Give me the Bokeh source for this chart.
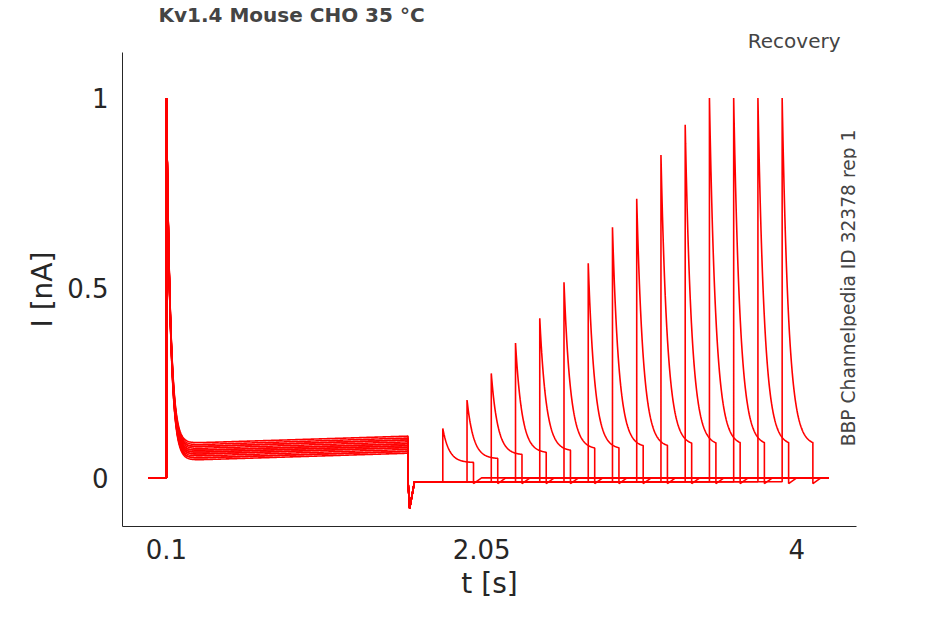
import numpy as np
from bokeh.plotting import figure
from bokeh.models import Label, FixedTicker, Range1d, Title
from bokeh.embed import file_html
from bokeh.resources import INLINE

plateaus = [0.045, 0.05, 0.055, 0.06, 0.065, 0.07, 0.075, 0.08, 0.085, 0.05, 0.06, 0.07, 0.08, 0.09, 0.065]
peak_times = [1.81, 1.96, 2.11, 2.26, 2.41, 2.56, 2.71, 2.86, 3.01, 3.16, 3.31, 3.46, 3.61, 3.76, 3.91]
peak_amps = [0.13, 0.205, 0.275, 0.355, 0.42, 0.515, 0.565, 0.66, 0.735, 0.85, 0.93, 1.0, 1.0, 1.0, 1.0]
tail_levels = [0.04, 0.05, 0.06, 0.065, 0.07, 0.075, 0.075, 0.08, 0.08, 0.085, 0.085, 0.085, 0.085, 0.085, 0.085]
t_start, t_on, t_off, t_end = -0.01, 0.1, 1.595, 4.2
pulse_len = 0.19

p = figure(width=930, height=610, output_backend="svg", toolbar_location=None,
           x_range=Range1d(-0.172, 4.37), y_range=Range1d(-0.128, 1.12),
           min_border_left=122, min_border_right=74, min_border_top=20, min_border_bottom=84)
p.outline_line_color = None
p.grid.visible = False

p.title.text = "Kv1.4  Mouse  CHO  35 °C"
p.title.text_font_size = "15pt"
p.title.text_font_style = "bold"
p.title.text_font = "DejaVu Sans"
p.title.offset = 36
p.title.standoff = 0
p.add_layout(Title(text="Recovery", align="right", offset=16, text_font_size="15pt",
                   text_font_style="normal", text_font="DejaVu Sans", standoff=0), "above")

for i in range(len(peak_times)):
    tp = peak_times[i]
    d1 = np.linspace(0, t_off - t_on, 300)
    y1 = plateaus[i] + (1 - plateaus[i]) * np.exp(-d1 / 0.025) + 0.02 * d1 / 1.5
    d2 = np.linspace(0, pulse_len, 80)
    y2 = tail_levels[i] + (peak_amps[i] - tail_levels[i]) * np.exp(-d2 / 0.04)
    xs = np.concatenate([[t_start, t_on], t_on + d1, [t_off, t_off + 0.01, t_off + 0.04, tp],
                         tp + d2, [tp + pulse_len, tp + pulse_len + 0.05, t_end]])
    ys = np.concatenate([[0, 0], y1, [-0.01, -0.08, -0.01, -0.01],
                         y2, [-0.015, 0, 0]])
    p.line(xs, ys, color="#ff0000", line_width=1.6)

for ax in (p.xaxis, p.yaxis):
    ax.axis_line_color = "#262626"
    ax.major_tick_line_color = "#262626"
    ax.major_tick_in = 0
    ax.major_tick_out = 0
    ax.minor_tick_line_color = None
    ax.major_label_text_font_size = "26px"
    ax.major_label_text_color = "#262626"
    ax.major_label_text_font = "DejaVu Sans"
    ax.axis_label_text_font_size = "28px"
    ax.axis_label_text_font_style = "normal"
    ax.axis_label_text_color = "#262626"
    ax.axis_label_text_font = "DejaVu Sans"
p.xaxis.ticker = FixedTicker(ticks=[0.1, 2.05, 4])
p.xaxis.major_label_overrides = {0.1: "0.1", 2.05: "2.05", 4: "4"}
p.yaxis.ticker = FixedTicker(ticks=[0, 0.5, 1])
p.yaxis.major_label_overrides = {0: "0", 0.5: "0.5", 1: "1"}
p.yaxis.major_label_standoff = 14
p.xaxis.major_label_standoff = 12
p.xaxis.axis_label = "t [s]"
p.yaxis.axis_label = "I [nA]"

p.add_layout(Label(x=4.32, y=0.5, text="BBP Channelpedia ID 32378 rep 1", text_font_size="14pt",
                   angle=np.pi / 2, text_align="center", text_baseline="middle", text_font="DejaVu Sans"))

open("out.html", "w").write(file_html(p, INLINE))
